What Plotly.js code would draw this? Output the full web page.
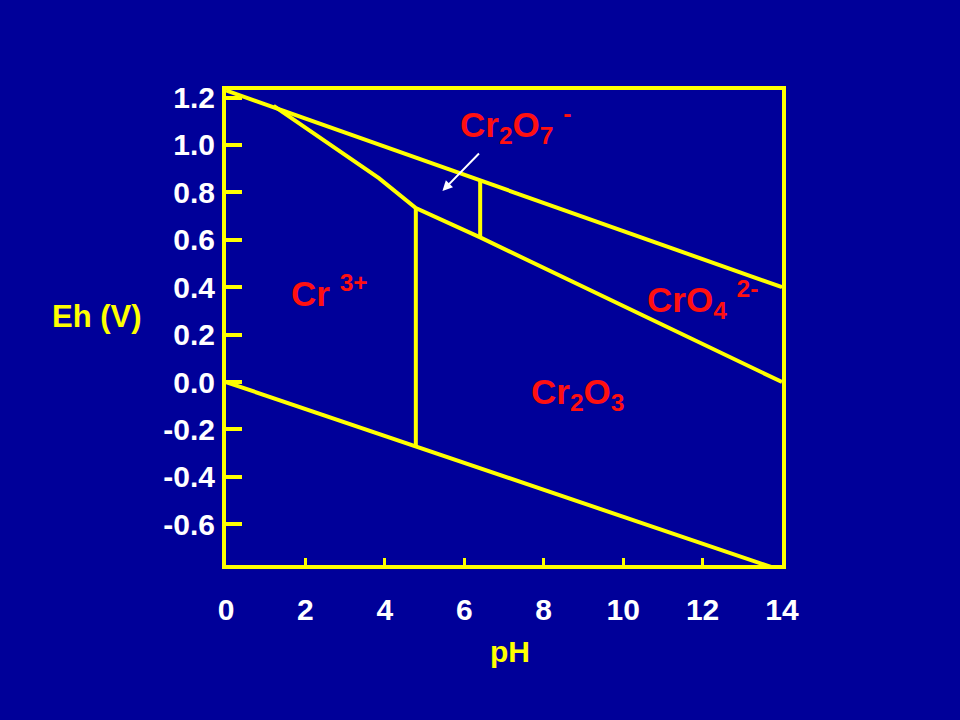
<!DOCTYPE html>
<html>
<head>
<meta charset="utf-8">
<script src="https://cdn.plot.ly/plotly-3.0.1.min.js"></script>
<style>html,body{margin:0;padding:0;background:#000099;}#chart{width:960px;height:720px;}</style>
</head>
<body>
<div id="chart"></div>
<script>
// Boundary lines of the Cr Pourbaix (Eh-pH) diagram
const waterUpperPH = [0, 14];
const waterUpperEh = [1.23, 0.40];
const waterLowerPH = [0, 13.9];
const waterLowerEh = [0.0, -0.79];
const crUpperPH = [1.2, 3.85, 4.78, 6.4, 14];
const crUpperEh = [1.165, 0.86, 0.734, 0.61, 0.0];
const cr3Cr2O3PH = [4.78, 4.78];
const cr3Cr2O3Eh = [0.734, -0.272];
const dichromPH = [6.4, 6.4];
const dichromEh = [0.852, 0.61];

const xTickVals = [0, 2, 4, 6, 8, 10, 12, 14];
const xTickText = ['0', '2', '4', '6', '8', '10', '12', '14'];
const yTickVals = [1.2, 1.0, 0.8, 0.6, 0.4, 0.2, 0.0, -0.2, -0.4, -0.6];
const yTickText = ['1.2', '1.0', '0.8', '0.6', '0.4', '0.2', '0.0', '-0.2', '-0.4', '-0.6'];

const YEL = '#FFFF00';
const RED = '#FF1010';
const FONT = 'Arial, "Liberation Sans", sans-serif';

function seg(x, y) {
  return {x: x, y: y, type: 'scatter', mode: 'lines',
    line: {color: YEL, width: 4}, hoverinfo: 'skip', showlegend: false};
}

const traces = [
  seg(waterUpperPH, waterUpperEh),
  seg(waterLowerPH, waterLowerEh),
  seg(crUpperPH, crUpperEh),
  seg(cr3Cr2O3PH, cr3Cr2O3Eh),
  seg(dichromPH, dichromEh)
];

const labFont = {family: FONT, size: 35, color: RED, weight: 'bold'};

const layout = {
  width: 960, height: 720,
  paper_bgcolor: '#000099', plot_bgcolor: '#000099',
  margin: {l: 226, r: 178, t: 90, b: 155},
  showlegend: false,
  xaxis: {
    range: [0, 14], showgrid: false, zeroline: false,
    showline: true, mirror: true, linecolor: YEL, linewidth: 4,
    ticks: 'inside', ticklen: 7, tickwidth: 3, tickcolor: YEL,
    tickvals: xTickVals, ticktext: xTickText,
    tickfont: {family: FONT, size: 30, color: '#FFFFFF', weight: 'bold'},
    ticklabelstandoff: 15
  },
  yaxis: {
    range: [-0.772, 1.232], showgrid: false, zeroline: false,
    showline: true, mirror: true, linecolor: YEL, linewidth: 4,
    ticks: 'inside', ticklen: 16, tickwidth: 4, tickcolor: YEL,
    tickvals: yTickVals, ticktext: yTickText,
    tickfont: {family: FONT, size: 30, color: '#FFFFFF', weight: 'bold'},
    ticklabelstandoff: 1
  },
  annotations: [
    {xref: 'paper', yref: 'paper', x: -0.232, y: 0.524, xanchor: 'center', yanchor: 'middle',
     text: 'Eh (V)', showarrow: false, font: {family: FONT, size: 31, color: YEL, weight: 'bold'}},
    {xref: 'paper', yref: 'paper', x: 0.511, y: -0.183, xanchor: 'center', yanchor: 'middle',
     text: 'pH', showarrow: false, font: {family: FONT, size: 30, color: YEL, weight: 'bold'}},
    {x: 7.3, y: 1.085, text: 'Cr<sub>2</sub>O<sub>7</sub> <sup>-</sup>', showarrow: false, font: labFont},
    {x: 2.6, y: 0.385, text: 'Cr <sup>3+</sup>', showarrow: false, font: labFont},
    {x: 12.0, y: 0.35, text: 'CrO<sub>4</sub> <sup>2-</sup>', showarrow: false, font: labFont},
    {x: 8.85, y: -0.05, text: 'Cr<sub>2</sub>O<sub>3</sub>', showarrow: false, font: labFont},
    {x: 5.45, y: 0.806, text: '', showarrow: true, ax: 38, ay: -39,
     arrowcolor: '#FFFFFF', arrowwidth: 2, arrowhead: 2, arrowsize: 1}
  ]
};

Plotly.newPlot('chart', traces, layout, {staticPlot: true, displayModeBar: false});
</script>
</body>
</html>
